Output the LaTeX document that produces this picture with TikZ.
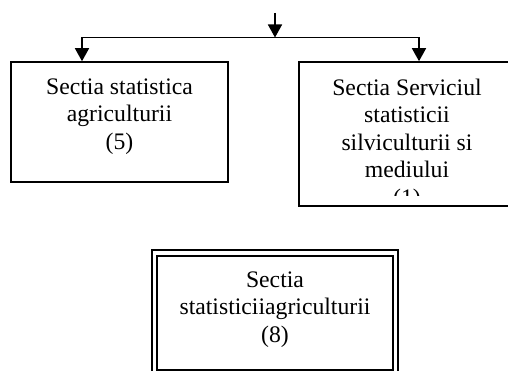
\documentclass[tikz,border=0pt]{standalone}
\usepackage{fontspec}
\setmainfont{Liberation Serif}
\usepackage{tikz}
\usetikzlibrary{arrows.meta, positioning}

\begin{document}
\begin{tikzpicture}[x=1pt, y=-1pt, >={Triangle[length=13pt, width=14pt]},
        sectbox/.style={draw, line width=1.6pt, rectangle, inner sep=0pt},
        secttxt/.style={font=\fontsize{23.7}{27.5}\selectfont, align=center, inner sep=0pt, anchor=north},
        conn/.style={->, line width=1.6pt}]
        \clip (0,0) rectangle (508,371);

        % --- Sectii de sus ---
        \node[sectbox, minimum width=217, minimum height=120] (agri) at (119.5,122) {};
        \node[secttxt] (agritxt) at (119.5,78.5) {Sectia statistica\\agriculturii\\(5)};

        \node[sectbox, minimum width=216, minimum height=144] (silv) at (407,134) {};
        \begin{scope}
            \clip (299,62) rectangle (508,196);
            \node[secttxt] (silvtxt) at (407,78.5)
                {Sectia Serviciul\\statisticii\\silviculturii si\\mediului\\(1)};
        \end{scope}

        % --- Sageti ---
        \coordinate (src) at (275,13);
        \coordinate (hub) at (275,37.5);
        \draw[conn] (src) -- (hub);
        \draw[conn] (hub) -| ([xshift=-37.5pt]agri.north);
        \draw[conn] (hub) -| ([xshift=12pt]silv.north);

        % --- Sectia de jos (chenar dublu) ---
        \node[sectbox, line width=2.8pt, minimum width=246, minimum height=140] (jos) at (275,320) {};
        \node[sectbox, line width=1.8pt, minimum width=236, minimum height=114] (josin) at (275,313) {};
        \node[secttxt] (jostxt) at (275,271.5) {Sectia\\statisticiiagriculturii\\(8)};
\end{tikzpicture}
\end{document}
